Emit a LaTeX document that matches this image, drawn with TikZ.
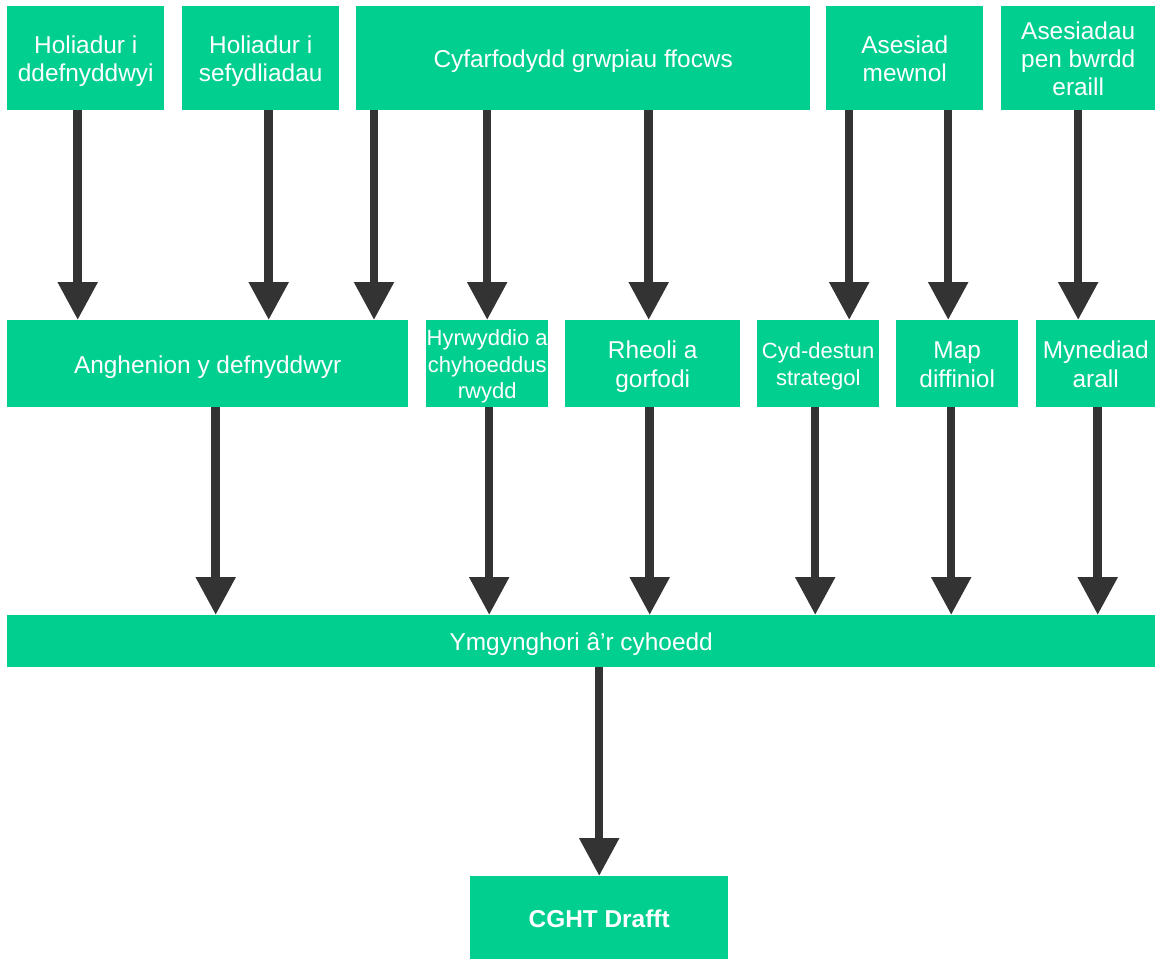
\documentclass[tikz,border=0pt]{standalone}
\usepackage{fontspec}
\setmainfont{Liberation Sans}
\usetikzlibrary{arrows.meta,positioning}

\definecolor{boxgreen}{RGB}{0,207,143}
\definecolor{arrowgrey}{RGB}{51,51,51}

% struts so that lines sit as in the original
\newcommand{\lntop}{\rule{0pt}{0.98em}}
\newcommand{\lnbot}{\rule[-0.213em]{0pt}{0pt}}

\tikzset{
	stage/.style={fill=boxgreen, text=white, align=center, inner sep=0pt, anchor=north west, font=\fontsize{24.4}{28.4}\selectfont},
	smallstage/.style={stage, font=\fontsize{22}{26.5}\selectfont},
	flow/.style={draw=arrowgrey, line width=8.5pt, -{Triangle[width=38pt,length=38pt,fill=arrowgrey]}}
}

\begin{document}
\begin{tikzpicture}[x=1pt,y=-1pt]
					\useasboundingbox (0,0) rectangle (1155,960);
					
					% sources
					\node[stage, minimum width=157pt, minimum height=104pt] (quser) at (7,6) {\lntop Holiadur i\\ddefnyddwyi\lnbot};
					\node[stage, minimum width=157pt, minimum height=104pt] (qorg) at (182,6) {\lntop Holiadur i\\sefydliadau\lnbot};
					\node[stage, minimum width=454pt, minimum height=104pt] (focus) at (356,6) {\lntop Cyfarfodydd grwpiau ffocws\lnbot};
					\node[stage, minimum width=157pt, minimum height=104pt] (internal) at (826,6) {\lntop Asesiad\\mewnol\lnbot};
					\node[stage, minimum width=154pt, minimum height=104pt] (desk) at (1001,6) {\lntop Asesiadau\\pen bwrdd\\eraill\lnbot};
					
					% themes
					\node[stage, minimum width=401pt, minimum height=87pt] (need) at (7,320) {\lntop Anghenion y defnyddwyr\lnbot};
					\node[smallstage, minimum width=122pt, minimum height=87pt] (promo) at (426,320) {\lntop Hyrwyddio a\\chyhoeddus\\rwydd\lnbot};
					\node[stage, minimum width=175pt, minimum height=87pt] (enforce) at (565,320) {\lntop Rheoli a\\gorfodi\lnbot};
					\node[smallstage, minimum width=122pt, minimum height=87pt] (strategy) at (757,320) {\lntop Cyd-destun\\strategol\lnbot};
					\node[stage, minimum width=122pt, minimum height=87pt] (defmap) at (896,320) {\lntop Map\\diffiniol\lnbot};
					\node[stage, minimum width=119pt, minimum height=87pt] (access) at (1036,320) {\lntop Mynediad\\arall\lnbot};
					
					\node[stage, minimum width=1148pt, minimum height=52pt] (consult) at (7,615) {\lntop Ymgynghori â’r cyhoedd\lnbot};
					\node[stage, minimum width=258pt, minimum height=83pt, font=\fontsize{24.4}{28.4}\selectfont\bfseries] (draft) at (470,876) {\lntop CGHT Drafft\lnbot};
					
					\draw[flow] ([xshift=-8pt]quser.south) -- ([xshift=-8pt]quser.south |- need.north);
					\draw[flow] ([xshift=8pt]qorg.south) -- ([xshift=8pt]qorg.south |- need.north);
					\draw[flow] ([xshift=18pt]focus.south west) -- ([xshift=18pt]focus.south west |- need.north);
					\draw[flow] (focus.south -| promo.north) -- (promo.north);
					\draw[flow] ([xshift=-4pt]focus.south -| enforce.north) -- ([xshift=-4pt]enforce.north);
					\draw[flow] ([xshift=31pt]strategy.north |- internal.south) -- ([xshift=31pt]strategy.north);
					\draw[flow] ([xshift=-9pt]defmap.north |- internal.south) -- ([xshift=-9pt]defmap.north);
					\draw[flow] (desk.south) -- (desk.south |- access.north);
					
					\draw[flow] ([xshift=8pt]need.south) -- ([xshift=8pt]need.south |- consult.north);
					\draw[flow] ([xshift=2pt]promo.south) -- ([xshift=2pt]promo.south |- consult.north);
					\draw[flow] ([xshift=-3pt]enforce.south) -- ([xshift=-3pt]enforce.south |- consult.north);
					\draw[flow] ([xshift=-3pt]strategy.south) -- ([xshift=-3pt]strategy.south |- consult.north);
					\draw[flow] ([xshift=-6pt]defmap.south) -- ([xshift=-6pt]defmap.south |- consult.north);
					\draw[flow] ([xshift=2pt]access.south) -- ([xshift=2pt]access.south |- consult.north);
					
					\draw[flow] (consult.south -| draft.north) -- (draft.north);
\end{tikzpicture}
\end{document}
